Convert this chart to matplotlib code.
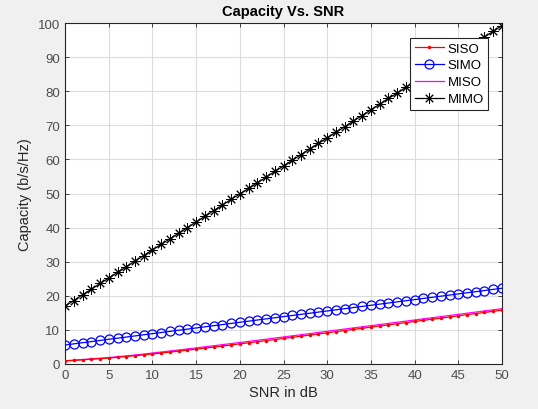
import matplotlib
matplotlib.use("Agg")
import matplotlib.pyplot as plt

plt.rcParams['font.family'] = ['Liberation Sans', 'DejaVu Sans']

snr_db = list(range(0, 51))

siso = [0.86, 1.02, 1.19, 1.37, 1.54, 1.71, 1.94, 2.17, 2.41, 2.66,
        2.91, 3.19, 3.47, 3.75, 4.04, 4.33, 4.64, 4.94, 5.25, 5.56,
        5.88, 6.19, 6.51, 6.83, 7.15, 7.47, 7.80, 8.13, 8.46, 8.80,
        9.13, 9.46, 9.80, 10.13, 10.46, 10.79, 11.13, 11.46, 11.79, 12.12,
        12.45, 12.79, 13.12, 13.45, 13.78, 14.11, 14.45, 14.78, 15.11, 15.44,
        15.78]

simo = [5.55, 5.88, 6.22, 6.55, 6.88, 7.22, 7.55, 7.88, 8.21, 8.55,
        8.88, 9.21, 9.55, 9.88, 10.21, 10.55, 10.88, 11.21, 11.54, 11.88,
        12.21, 12.54, 12.88, 13.21, 13.54, 13.88, 14.21, 14.54, 14.87, 15.21,
        15.54, 15.87, 16.21, 16.54, 16.87, 17.21, 17.54, 17.87, 18.20, 18.54,
        18.87, 19.20, 19.54, 19.87, 20.20, 20.54, 20.87, 21.20, 21.53, 21.87,
        22.20]

miso = [0.92, 1.10, 1.28, 1.47, 1.66, 1.86, 2.11, 2.36, 2.62, 2.88,
        3.19, 3.48, 3.78, 4.08, 4.39, 4.70, 5.02, 5.33, 5.65, 5.96,
        6.29, 6.61, 6.93, 7.25, 7.58, 7.90, 8.23, 8.56, 8.89, 9.23,
        9.56, 9.89, 10.23, 10.56, 10.89, 11.22, 11.56, 11.89, 12.22, 12.55,
        12.88, 13.22, 13.55, 13.88, 14.21, 14.54, 14.88, 15.21, 15.54, 15.87,
        16.21]

mimo = [17.0, 18.6, 20.3, 21.9, 23.6, 25.2, 26.9, 28.5, 30.2, 31.8,
        33.5, 35.1, 36.7, 38.4, 40.0, 41.7, 43.3, 45.0, 46.6, 48.3,
        49.9, 51.5, 53.2, 54.8, 56.5, 58.1, 59.8, 61.4, 63.1, 64.7,
        66.4, 68.0, 69.6, 71.3, 72.9, 74.6, 76.2, 77.9, 79.5, 81.2,
        82.8, 84.4, 86.1, 87.7, 89.4, 91.0, 92.7, 94.3, 96.0, 97.6,
        99.3]

x_ticks = list(range(0, 51, 5))
y_ticks = list(range(0, 101, 10))

fig = plt.figure(figsize=(5.38, 4.10), dpi=100, facecolor='#f0f0f0')
ax = fig.add_axes([0.121, 0.110, 0.812, 0.831])
ax.set_facecolor('white')

ax.plot(snr_db, siso, color='red', marker='.', markersize=3, linewidth=0.9, label='SISO', zorder=3)
ax.plot(snr_db, simo, color='blue', marker='o', markersize=6.5, markerfacecolor='none',
        markeredgewidth=0.9, linewidth=0.9, label='SIMO', zorder=3)
ax.plot(snr_db, miso, color='magenta', linewidth=0.9, label='MISO', zorder=2)
ax.plot(snr_db, mimo, color='black', marker=(8, 2, 0), markersize=7.5, linewidth=0.9,
        markeredgewidth=0.7, label='MIMO', zorder=3)

ax.set_xlim(0, 50)
ax.set_ylim(0, 100)
ax.set_xticks(x_ticks)
ax.set_yticks(y_ticks)
ax.grid(True, color='#dcdcdc', linewidth=0.8)
ax.set_axisbelow(True)
ax.tick_params(direction='in', top=True, right=True, length=3, width=0.6,
               colors='#262626', labelsize=9.5, labelcolor='#4d4d4d')
for s in ax.spines.values():
    s.set_color('#262626')
    s.set_linewidth(0.8)

ax.set_title('Capacity Vs. SNR', fontsize=10.5, fontweight='bold', color='black', pad=6)
ax.set_xlabel('SNR in dB', fontsize=10.5, color='#262626', labelpad=3)
ax.set_ylabel('Capacity (b/s/Hz)', fontsize=10.5, color='#262626', labelpad=4)

leg = ax.legend(loc='upper right', bbox_to_anchor=(0.975, 0.965), fontsize=9.5,
                fancybox=False, framealpha=1, edgecolor='#262626', handlelength=2.2,
                borderpad=0.35, labelspacing=0.35, handletextpad=0.3, borderaxespad=0.2)
leg.get_frame().set_linewidth(0.8)

fig.savefig('out.png', dpi=100, facecolor=fig.get_facecolor())
